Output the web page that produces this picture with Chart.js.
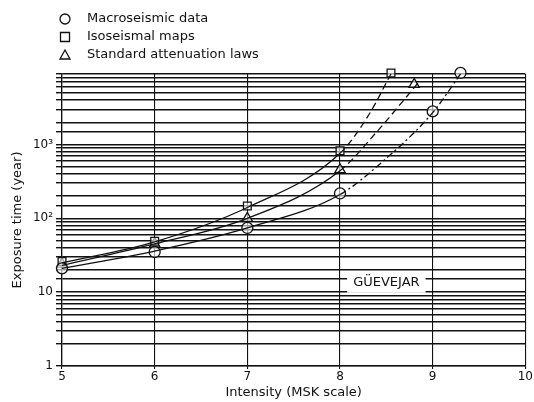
<!DOCTYPE html>
<html lang="en">
<head>
  <meta charset="UTF-8" />
  <title>Exposure time vs intensity</title>
  <script src="https://cdn.jsdelivr.net/npm/chart.js"></script>
  <style>
    body { margin: 0; background: #fff; }
    #wrap { width: 534px; height: 402px; position: relative; }
  </style>
</head>
<body>
  <div id="wrap"><canvas id="chart"></canvas></div>
  <script>
    // Observed points
    const macroX = [5, 6, 7, 8, 9, 9.3];
    const macroY = [21, 35, 74, 217, 2800, 9300];
    const isoX = [5, 6, 7, 8, 8.55];
    const isoY = [26, 49, 147, 820, 9300];
    const attX = [5, 6, 7, 8, 8.8];
    const attY = [24, 45, 100, 455, 6500];

    // Fitted curves
    const macroFitX = [5, 6, 7, 8, 8.5, 9, 9.3];
    const macroFitY = [21, 36, 74, 210, 650, 2700, 9000];
    const isoFitX = [5, 6, 7, 8, 8.3, 8.55];
    const isoFitY = [25, 48, 140, 760, 2400, 9000];
    const attFitX = [5, 6, 7, 8, 8.4, 8.85];
    const attFitY = [23, 45, 100, 440, 1500, 7000];

    const yTickLabels = { 1: '1', 10: '10', 100: '10\u00b2', 1000: '10\u00b3' };
    const legendItems = ['Macroseismic data', 'Isoseismal maps', 'Standard attenuation laws'];
    const legendStyles = ['circle', 'rect', 'triangle'];

    const pts = (xs, ys) => xs.map((x, i) => ({ x: x, y: ys[i] }));
    const FONT = '"DejaVu Sans", sans-serif';

    function curve(xs, ys, dash) {
      return {
        type: 'line',
        data: pts(xs, ys),
        borderColor: '#111',
        borderWidth: 1.3,
        pointRadius: 0,
        cubicInterpolationMode: 'monotone',
        clip: false,
        segment: {
          borderDash: ctx => ctx.p0.parsed.x >= 8 ? dash : []
        }
      };
    }

    function markers(xs, ys, style) {
      return {
        type: 'scatter',
        data: pts(xs, ys),
        pointStyle: style,
        pointRadius: style === 'triangle' ? 6 : 5.5,
        pointBackgroundColor: 'rgba(255,255,255,0.6)',
        pointBorderColor: '#111',
        pointBorderWidth: 1.3,
        showLine: false,
        clip: false
      };
    }

    const extras = {
      id: 'extras',
      afterDraw(chart) {
        const c = chart.ctx;
        const xs = chart.scales.x, ys = chart.scales.y;
        c.save();
        // Station label
        const lx = xs.getPixelForValue(8.5), ly = ys.getPixelForValue(13.4);
        c.font = '13px ' + FONT;
        c.textAlign = 'center';
        c.textBaseline = 'middle';
        const w = c.measureText('GÜEVEJAR').width;
        c.fillStyle = '#fff';
        c.fillRect(lx - w / 2 - 6, ly - 10, w + 12, 20);
        c.fillStyle = '#111';
        c.fillText('GÜEVEJAR', lx, ly);
        // Legend
        c.textAlign = 'left';
        c.font = '13px ' + FONT;
        c.strokeStyle = '#111';
        c.lineWidth = 1.3;
        legendItems.forEach((t, i) => {
          const y = 19 + i * 18, x = 65;
          c.beginPath();
          if (legendStyles[i] === 'circle') c.arc(x, y, 5, 0, Math.PI * 2);
          else if (legendStyles[i] === 'rect') c.rect(x - 4.5, y - 4.5, 9, 9);
          else { c.moveTo(x, y - 5); c.lineTo(x + 5, y + 4); c.lineTo(x - 5, y + 4); c.closePath(); }
          c.stroke();
          c.fillText(t, x + 22, y);
        });
        c.restore();
      }
    };

    new Chart(document.getElementById('chart'), {
      type: 'scatter',
      data: {
        datasets: [
          curve(macroFitX, macroFitY, [7, 3, 2, 3]),
          curve(isoFitX, isoFitY, [7, 4]),
          curve(attFitX, attFitY, [7, 4]),
          markers(macroX, macroY, 'circle'),
          markers(isoX, isoY, 'rect'),
          markers(attX, attY, 'triangle')
        ]
      },
      options: {
        responsive: true,
        maintainAspectRatio: false,
        animation: false,
        layout: { padding: { left: 8, right: 7, top: 74, bottom: 2 } },
        plugins: { legend: { display: false }, tooltip: { enabled: false } },
        scales: {
          x: {
            type: 'linear',
            min: 5, max: 10,
            ticks: { stepSize: 1, color: '#111', font: { family: FONT, size: 12 }, padding: 1 },
            grid: { color: '#111', lineWidth: 1.1, tickLength: 3 },
            border: { color: '#111', width: 1.3 },
            title: { display: true, text: 'Intensity (MSK scale)', color: '#111', font: { family: FONT, size: 13 }, padding: 0 },
            afterFit: s => { s.height = 34; }
          },
          y: {
            type: 'logarithmic',
            min: 1, max: 9000,
            ticks: {
              autoSkip: false,
              color: '#111',
              font: { family: FONT, size: 12 },
              padding: 3,
              callback: v => yTickLabels[v] || ''
            },
            grid: { color: '#111', lineWidth: 1.4, tickLength: 6 },
            border: { color: '#111', width: 1.3 },
            title: { display: true, text: 'Exposure time (year)', color: '#111', font: { family: FONT, size: 13 }, padding: 2 },
            afterFit: s => { s.width = 54; }
          }
        }
      },
      plugins: [extras]
    });
  </script>
</body>
</html>
